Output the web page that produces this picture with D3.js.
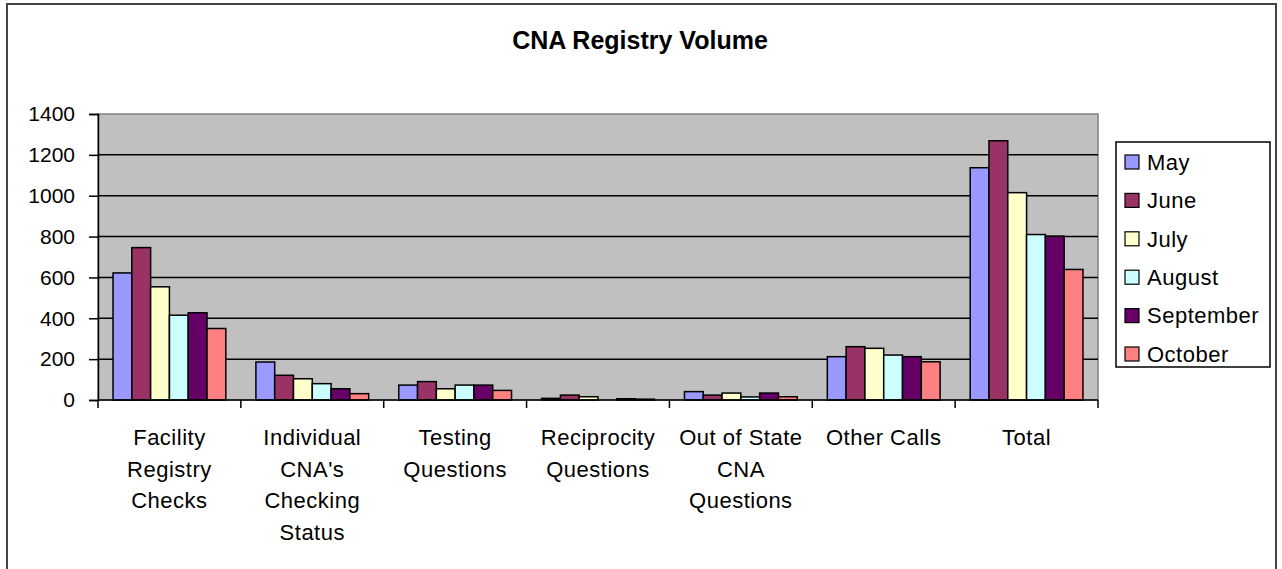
<!DOCTYPE html>
<meta charset="utf-8">
<head>
<style type='text/css'>
  body {
    margin: 0;
    background: #fff;
    font-family: 'Liberation Sans', Arial, sans-serif;
  }
  .grid line {
    stroke: #000;
    stroke-width: 1.5;
  }
  .axis text {
    font-size: 21px;
    fill: #000;
  }
  .axis .xlabel, .item text {
    font-size: 22px;
    letter-spacing: 0.5px;
  }
  .bar {
    stroke: #000;
    stroke-width: 1.5;
  }
</style>
</head>
<body>
<div id="chart"></div>
<script src="https://d3js.org/d3.v7.min.js"></script>
<script>
// chart data
var categories = ["Facility Registry Checks", "Individual CNA's Checking Status", "Testing Questions",
                  "Reciprocity Questions", "Out of State CNA Questions", "Other Calls", "Total"];
// wrapped labels as they appear under the axis
var categoryLines = [["Facility", "Registry", "Checks"], ["Individual", "CNA's", "Checking", "Status"],
                     ["Testing", "Questions"], ["Reciprocity", "Questions"],
                     ["Out of State", "CNA", "Questions"], ["Other Calls"], ["Total"]];
var months = ["May", "June", "July", "August", "September", "October"];
var may       = [622, 186, 73, 8, 41, 212, 1137];
var june      = [746, 121, 90, 24, 24, 261, 1269];
var july      = [554, 104, 55, 16, 34, 253, 1015];
var august    = [415, 80, 73, 0, 15, 220, 810];
var september = [427, 55, 73, 6, 34, 212, 802];
var october   = [350, 31, 47, 4, 16, 187, 639];
var yTicks = [0, 200, 400, 600, 800, 1000, 1200, 1400];
var colors = ["#9999ff", "#993366", "#ffffcc", "#ccffff", "#660066", "#ff8080"];

var series = [may, june, july, august, september, october];

var width = 1282,
    height = 569,
    plot = {left: 98, right: 1098, top: 114, bottom: 400};

var svg = d3.select("#chart").append("svg")
    .attr("width", width)
    .attr("height", height);

// outer frame of the chart
svg.append("rect")
    .attr("x", 7)
    .attr("y", 4)
    .attr("width", 1269)
    .attr("height", 620)
    .attr("fill", "#fff")
    .attr("stroke", "#444")
    .attr("stroke-width", 2);

svg.append("text")
    .attr("x", 640)
    .attr("y", 49)
    .attr("text-anchor", "middle")
    .style("font-size", "25px")
    .style("font-weight", "bold")
    .text("CNA Registry Volume");

var x = d3.scaleBand()
    .domain(categories)
    .range([plot.left, plot.right])
    .padding(0);

var xm = d3.scaleBand()
    .domain(months)
    .range([0, x.bandwidth()])
    .paddingInner(0)
    .paddingOuter(0.8);

var y = d3.scaleLinear()
    .domain([0, 1400])
    .range([plot.bottom, plot.top]);

var color = d3.scaleOrdinal()
    .domain(months)
    .range(colors);

// plot area background
svg.append("rect")
    .attr("x", plot.left)
    .attr("y", plot.top)
    .attr("width", plot.right - plot.left)
    .attr("height", plot.bottom - plot.top)
    .attr("fill", "#c0c0c0")
    .attr("stroke", "#808080")
    .attr("stroke-width", 1.5);

// horizontal gridlines
svg.append("g")
    .attr("class", "grid")
  .selectAll("line")
  .data(yTicks.filter(function(d) { return d > 0 && d < 1400; }))
  .enter().append("line")
    .attr("x1", plot.left)
    .attr("x2", plot.right)
    .attr("y1", function(d) { return y(d); })
    .attr("y2", function(d) { return y(d); });

// bars
var rows = categories.map(function(c, i) {
  var r = {category: c};
  months.forEach(function(m, j) { r[m] = series[j][i]; });
  return r;
});

svg.append("g")
  .selectAll("g")
  .data(rows)
  .enter().append("g")
    .attr("transform", function(d) { return "translate(" + x(d.category) + ",0)"; })
  .selectAll("rect")
  .data(function(d) { return months.map(function(m) { return {key: m, value: d[m]}; }); })
  .enter().append("rect")
    .attr("class", "bar")
    .attr("x", function(d) { return xm(d.key); })
    .attr("y", function(d) { return y(d.value); })
    .attr("width", xm.bandwidth())
    .attr("height", function(d) { return y(0) - y(d.value); })
    .attr("fill", function(d) { return color(d.key); })
    .style("display", function(d) { return d.value > 0 ? null : "none"; });

// y axis
var yAxis = svg.append("g")
    .attr("class", "axis")
    .attr("transform", "translate(" + plot.left + ",0)")
    .call(d3.axisLeft(y).tickValues(yTicks).tickSize(9).tickPadding(14).tickFormat(d3.format("d")));
yAxis.select(".domain").attr("stroke", "#000").attr("stroke-width", 1.5);
yAxis.selectAll(".tick line").attr("stroke", "#000").attr("stroke-width", 1.5);

// x axis: ticks sit between categories
var xAxis = svg.append("g")
    .attr("class", "axis")
    .attr("transform", "translate(0," + plot.bottom + ")");
xAxis.append("line")
    .attr("x1", plot.left)
    .attr("x2", plot.right)
    .attr("stroke", "#000")
    .attr("stroke-width", 1.5);
xAxis.selectAll(".xtick")
  .data(categories.concat([null]))
  .enter().append("line")
    .attr("class", "xtick")
    .attr("x1", function(d) { return d === null ? plot.right : x(d); })
    .attr("x2", function(d) { return d === null ? plot.right : x(d); })
    .attr("y1", 0)
    .attr("y2", 8)
    .attr("stroke", "#000")
    .attr("stroke-width", 1.5);

xAxis.selectAll(".xlabel")
  .data(categories)
  .enter().append("text")
    .attr("class", "xlabel")
    .attr("text-anchor", "middle")
    .attr("x", function(d) { return x(d) + x.bandwidth() / 2; })
    .attr("y", 45)
  .selectAll("tspan")
  .data(function(d, i) { return categoryLines[i]; })
  .enter().append("tspan")
    .attr("x", function() { var p = this.parentNode; return +d3.select(p).attr("x"); })
    .attr("dy", function(d, i) { return i === 0 ? 0 : 31.5; })
    .text(function(d) { return d; });

// legend
var legend = svg.append("g");
legend.append("rect")
    .attr("x", 1116)
    .attr("y", 142)
    .attr("width", 154)
    .attr("height", 225)
    .attr("fill", "#fff")
    .attr("stroke", "#000")
    .attr("stroke-width", 1.5);

var item = legend.selectAll(".item")
  .data(months)
  .enter().append("g")
    .attr("class", "item")
    .attr("transform", function(d, i) { return "translate(1125," + (162 + i * 38.4) + ")"; });

item.append("rect")
    .attr("x", 0)
    .attr("y", -7)
    .attr("width", 14)
    .attr("height", 14)
    .attr("fill", function(d) { return color(d); })
    .attr("stroke", "#000")
    .attr("stroke-width", 1.2);

item.append("text")
    .attr("x", 22)
    .attr("dy", "0.35em")
    .text(function(d) { return d; });
</script>
</body>
